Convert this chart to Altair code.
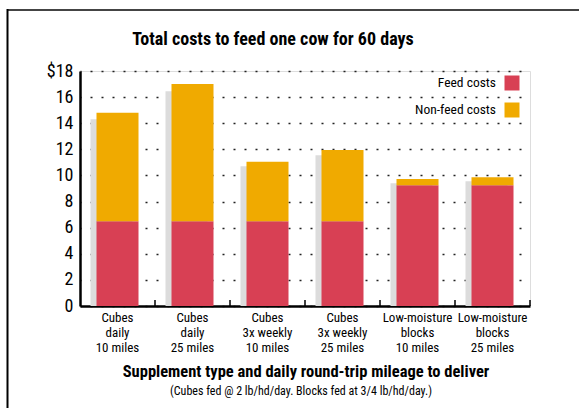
import altair as alt
import pandas as pd

categories = ["Cubes|daily|10 miles", "Cubes|daily|25 miles",
              "Cubes|3x weekly|10 miles", "Cubes|3x weekly|25 miles",
              "Low-moisture|blocks|10 miles", "Low-moisture|blocks|25 miles"]
feed_costs = [6.5, 6.5, 6.5, 6.5, 9.25, 9.25]
nonfeed_costs = [8.3, 10.5, 4.55, 5.45, 0.47, 0.62]
shadow_totals = [14.3, 16.45, 10.7, 11.55, 9.4, 9.55]
series = ["Feed costs", "Non-feed costs"]
colors = ["#D84054", "#F0AA00"]
y_ticks = [0, 2, 4, 6, 8, 10, 12, 14, 16, 18]

FONT = "'Roboto Condensed', 'Open Sans Condensed', sans-serif"
W, H = 450, 235

rows = []
for c, f, n in zip(categories, feed_costs, nonfeed_costs):
    rows.append({"cat": c, "series": series[0], "lo": 0, "hi": f})
    rows.append({"cat": c, "series": series[1], "lo": f, "hi": f + n})
df = pd.DataFrame(rows)
shadow_df = pd.DataFrame({"cat": categories, "total": shadow_totals})
legend_df = pd.DataFrame({"series": series})

xscale = alt.Scale(domain=categories, paddingInner=0, paddingOuter=0)
yscale = alt.Scale(domain=[0, 18], nice=False)
cscale = alt.Scale(domain=series, range=colors)

xaxis = alt.Axis(title=None, labelExpr="split(datum.label, '|')",
                 labelAngle=0, labelFont=FONT, labelFontSize=13,
                 labelColor="black", labelLineHeight=15, labelPadding=5,
                 ticks=False, domainColor="black", domainWidth=2.5,
                 labelBaseline="top")
yaxis = alt.Axis(title=None, values=y_ticks,
                 labelExpr="datum.value == 18 ? '$18' : datum.label",
                 labelFont=FONT, labelFontSize=18, labelColor="black",
                 labelPadding=7, ticks=False, domainColor="black",
                 domainWidth=2.5, grid=True, gridColor="#222",
                 gridDash=[2, 9], gridDashOffset=1, gridWidth=1.6)

shadow = alt.Chart(shadow_df).mark_bar(width=42, xOffset=-6, color="#DCDCDC").encode(
    x=alt.X("cat:N", scale=xscale, sort=categories, axis=xaxis),
    y=alt.Y("total:Q", scale=yscale, axis=yaxis),
)

bars = alt.Chart(df).mark_bar(width=42).encode(
    x=alt.X("cat:N", scale=xscale, sort=categories, axis=xaxis),
    y=alt.Y("lo:Q", scale=yscale, axis=yaxis),
    y2="hi:Q",
    color=alt.Color("series:N", scale=cscale, legend=None),
)

ticks = alt.Chart(shadow_df).mark_rule(color="black", strokeWidth=1.5).encode(
    x=alt.X("cat:N", scale=xscale, sort=categories, bandPosition=1, axis=xaxis),
    y=alt.value(H), y2=alt.value(H - 6),
)

legend_layers = []
for i, s in enumerate(series):
    base = alt.Chart(legend_df).transform_filter(alt.datum.series == s)
    legend_layers.append(base.mark_text(align="right", baseline="middle",
                                        font=FONT, fontSize=13.5, color="black").encode(
        text="series:N", x=alt.value(416), y=alt.value(12 + 27 * i)))
    legend_layers.append(base.mark_square(size=225, opacity=1).encode(
        x=alt.value(432), y=alt.value(12 + 27 * i),
        color=alt.Color("series:N", scale=cscale, legend=None)))

title = alt.Chart(pd.DataFrame({"t": ["Total costs to feed one cow for 60 days"]})).mark_text(
    font=FONT, fontSize=18, fontWeight="bold", color="black", baseline="middle").encode(
    text="t:N", x=alt.value(193), y=alt.value(-31))
xtitle = alt.Chart(pd.DataFrame({"t": ["Supplement type and daily round-trip mileage to deliver"]})).mark_text(
    font=FONT, fontSize=16.5, fontWeight="bold", color="black", baseline="middle").encode(
    text="t:N", x=alt.value(226), y=alt.value(301))
subtitle = alt.Chart(pd.DataFrame({"t": ["(Cubes fed @ 2 lb/hd/day. Blocks fed at 3/4 lb/hd/day.)"]})).mark_text(
    font=FONT, fontSize=12, color="black", baseline="middle").encode(
    text="t:N", x=alt.value(221), y=alt.value(320))

frame_top = alt.Chart(shadow_df.head(1)).mark_rule(color="#444", strokeWidth=2).encode(
    x=alt.value(-73), x2=alt.value(520), y=alt.value(-61))
frame_left = alt.Chart(shadow_df.head(1)).mark_rule(color="black", strokeWidth=2).encode(
    x=alt.value(-72.5), y=alt.value(-62), y2=alt.value(345))

chart = alt.layer(shadow, bars, ticks, *legend_layers, title, xtitle, subtitle,
                  frame_top, frame_left).properties(
    width=W, height=H,
    autosize=alt.AutoSizeParams(type="none"),
    padding={"left": 80, "top": 71, "right": 49, "bottom": 102},
).configure_view(stroke=None).configure(background="white")

chart.save("out.html", embed_options={"renderer": "svg", "actions": False})
